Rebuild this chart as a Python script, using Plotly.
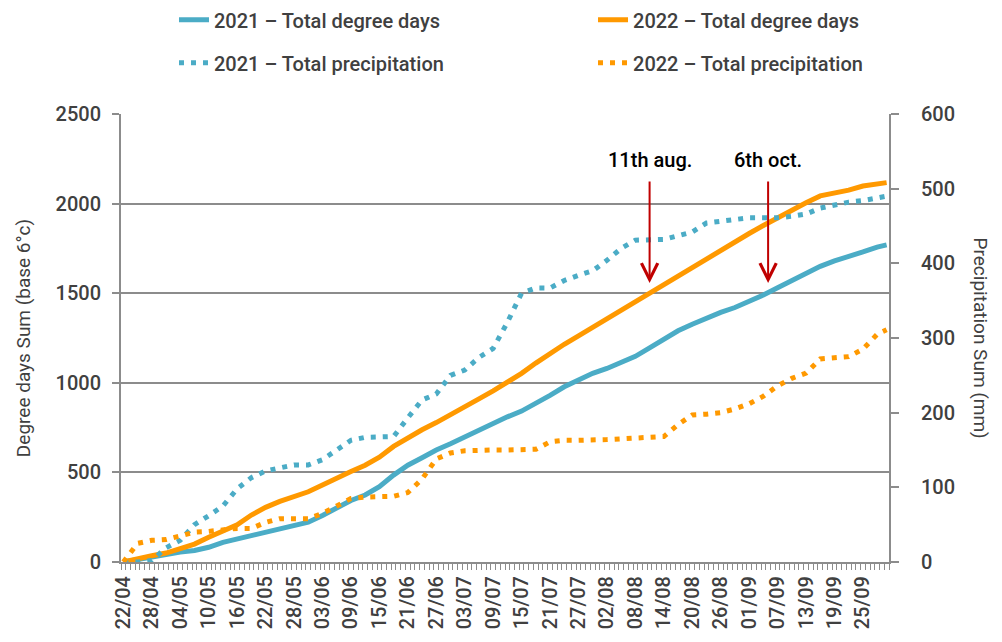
import plotly.graph_objects as go
from datetime import datetime, timedelta

# ---- data ----
dates = ["2022-04-22", "2022-04-25", "2022-04-28", "2022-05-01", "2022-05-04", "2022-05-07",
         "2022-05-10", "2022-05-13", "2022-05-16", "2022-05-19", "2022-05-22", "2022-05-25",
         "2022-05-28", "2022-05-31", "2022-06-03", "2022-06-06", "2022-06-09", "2022-06-12",
         "2022-06-15", "2022-06-18", "2022-06-21", "2022-06-24", "2022-06-27", "2022-06-30",
         "2022-07-03", "2022-07-06", "2022-07-09", "2022-07-12", "2022-07-15", "2022-07-18",
         "2022-07-21", "2022-07-24", "2022-07-27", "2022-07-30", "2022-08-02", "2022-08-05",
         "2022-08-08", "2022-08-11", "2022-08-14", "2022-08-17", "2022-08-20", "2022-08-23",
         "2022-08-26", "2022-08-29", "2022-09-01", "2022-09-04", "2022-09-07", "2022-09-10",
         "2022-09-13", "2022-09-16", "2022-09-19", "2022-09-22", "2022-09-25", "2022-09-28",
         "2022-09-30"]

gdd_2021 = [0, 15, 29, 44, 55, 64, 82, 110, 128, 145, 165, 180, 198, 222, 260, 305, 343, 374,
            420, 485, 540, 582, 625, 660, 698, 740, 776, 810, 842, 883, 930, 978, 1018, 1053,
            1080, 1112, 1148, 1195, 1245, 1290, 1327, 1362, 1393, 1420, 1452, 1490, 1530, 1570,
            1610, 1650, 1680, 1702, 1730, 1757, 1770]

gdd_2022 = [0, 20, 35, 50, 72, 100, 138, 172, 208, 262, 305, 338, 365, 392, 430, 470, 505, 540,
            585, 645, 695, 738, 778, 820, 865, 910, 955, 1003, 1053, 1110, 1165, 1215, 1262, 1310,
            1358, 1402, 1455, 1503, 1548, 1595, 1645, 1695, 1745, 1790, 1833, 1878, 1922, 1962,
            2005, 2043, 2058, 2075, 2098, 2112, 2117]

precip_2021 = [0, 0, 2, 19, 29, 50, 62, 75, 98, 113, 122, 126, 130, 130, 137, 150, 163, 167,
               167, 168, 193, 217, 225, 250, 257, 274, 286, 321, 360, 367, 367, 377, 384, 390,
               404, 420, 431, 432, 432, 437, 442, 454, 456, 459, 461, 461, 461, 463, 466, 474,
               478, 482, 484, 488, 490]

precip_2022 = [0, 25, 29, 30, 35, 40, 41, 43, 45, 45, 53, 58, 58, 58, 65, 75, 85, 87, 88, 88,
               93, 111, 138, 146, 149, 150, 150, 150, 150, 151, 161, 163, 163, 163, 164, 165,
               166, 166, 168, 184, 197, 198, 200, 205, 212, 222, 236, 246, 253, 272, 274, 275,
               285, 305, 311]

tick_labels = ["22/04", "28/04", "04/05", "10/05", "16/05", "22/05", "28/05", "03/06", "09/06",
               "15/06", "21/06", "27/06", "03/07", "09/07", "15/07", "21/07", "27/07", "02/08",
               "08/08", "14/08", "20/08", "26/08", "01/09", "07/09", "13/09", "19/09", "25/09"]

arrow_dates = ["2022-08-11", "2022-09-05"]
arrow_labels = ["11th aug.", "6th oct."]

# ---- styling ----
BLUE = "#4BACC6"
ORANGE = "#FF9900"
GRID = "#8C8C8C"
TXT = "#404040"
FONT = "Roboto"

tick_vals = [datetime.strptime(l + "/2022", "%d/%m/%Y").strftime("%Y-%m-%d") for l in tick_labels]

fig = go.Figure()
fig.add_trace(go.Scatter(x=dates, y=gdd_2021, mode="lines", name="2021 – Total degree days",
                         line=dict(color=BLUE, width=5), legend="legend", legendgroup="a"))
fig.add_trace(go.Scatter(x=dates, y=precip_2021, mode="lines", name="2021 – Total precipitation",
                         line=dict(color=BLUE, width=5, dash="5px,7px"), yaxis="y2",
                         legend="legend", legendgroup="b"))
fig.add_trace(go.Scatter(x=dates, y=gdd_2022, mode="lines", name="2022 – Total degree days",
                         line=dict(color=ORANGE, width=5), legend="legend2", legendgroup="c"))
fig.add_trace(go.Scatter(x=dates, y=precip_2022, mode="lines", name="2022 – Total precipitation",
                         line=dict(color=ORANGE, width=5, dash="5px,7px"), yaxis="y2",
                         legend="legend2", legendgroup="d"))

# arrows and their labels
for d, lab in zip(arrow_dates, arrow_labels):
    fig.add_annotation(x=d, y=1557, xref="x", yref="y", ax=d, ay=2132, axref="x", ayref="y",
                       text="", showarrow=True, arrowhead=5, arrowsize=1.6, arrowwidth=2,
                       arrowcolor="#C00000")
    fig.add_annotation(x=d, y=2244, xref="x", yref="y", text=lab, showarrow=False,
                       font=dict(family=FONT, size=20, color="#000000", weight=500))

# right axis title (reads top-to-bottom)
fig.add_annotation(x=1.138, y=0.5, xref="paper", yref="paper", text="Precipitation Sum (mm)",
                   textangle=90, showarrow=False,
                   font=dict(family=FONT, size=19, color=TXT))

x0 = (datetime(2022, 4, 22) - timedelta(hours=12)).strftime("%Y-%m-%d %H:%M")
x1 = (datetime(2022, 9, 30) + timedelta(hours=12)).strftime("%Y-%m-%d %H:%M")

legend_common = dict(orientation="v", xanchor="left", yanchor="top", y=1.254,
                     bgcolor="rgba(0,0,0,0)", tracegroupgap=14, itemwidth=30,
                     font=dict(family=FONT, size=20, color=TXT, weight=500))

fig.update_layout(
    width=1002, height=642,
    margin=dict(l=113, r=121, t=106, b=88, autoexpand=False),
    paper_bgcolor="white", plot_bgcolor="white",
    font=dict(family=FONT, size=20, color=TXT),
    xaxis=dict(type="date", range=[x0, x1], tickmode="array", tickvals=tick_vals,
               ticktext=tick_labels, tickangle=-90, ticks="", ticklabelstandoff=4,
               showgrid=False, showline=True, linecolor=GRID, linewidth=2, zeroline=False,
               automargin=False,
               tickfont=dict(family=FONT, size=20, color=TXT, weight=500),
               minor=dict(ticks="outside", ticklen=6, tickcolor=GRID, tickwidth=1,
                          tick0=x0, dtick=86400000)),
    yaxis=dict(range=[0, 2500], dtick=500, showgrid=True, gridcolor=GRID, gridwidth=1.5,
               showline=True, linecolor=GRID, linewidth=2, ticks="outside", ticklen=7,
               tickcolor=GRID, tickwidth=1.5, zeroline=False, ticklabelstandoff=7,
               automargin=False,
               tickfont=dict(family=FONT, size=20, color=TXT, weight=500),
               title=dict(text="Degree days Sum (base 6°c)", standoff=20,
                          font=dict(family=FONT, size=19, color=TXT))),
    yaxis2=dict(range=[0, 600], dtick=100, overlaying="y", side="right", showgrid=False,
                showline=True, linecolor=GRID, linewidth=2, ticks="outside", ticklen=8,
                tickcolor=GRID, tickwidth=1.5, zeroline=False, ticklabelstandoff=18,
                automargin=False,
                tickfont=dict(family=FONT, size=20, color=TXT, weight=500)),
    legend=dict(x=0.069, **legend_common),
    legend2=dict(x=0.6146, **legend_common),
    showlegend=True,
)

fig.write_html("out.html")
